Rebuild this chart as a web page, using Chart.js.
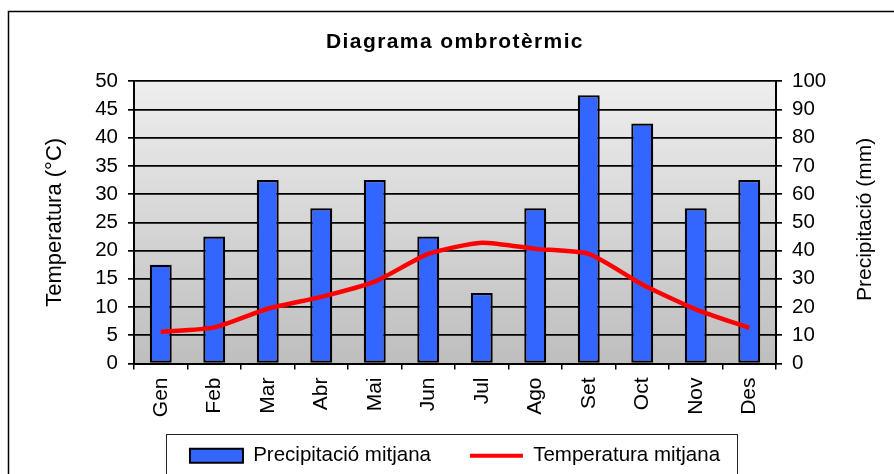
<!DOCTYPE html>
<html>
<head>
<meta charset="utf-8">
<script src="https://cdn.jsdelivr.net/npm/chart.js@4/dist/chart.umd.min.js"></script>
<style>
html,body{margin:0;padding:0;background:#fff;}
#wrap{width:894px;height:474px;position:relative;}
</style>
</head>
<body>
<div id="wrap"><canvas id="c" width="894" height="474"></canvas></div>
<script>
// ---- data ----
const months = ['Gen','Feb','Mar','Abr','Mai','Jun','Jul','Ago','Set','Oct','Nov','Des'];
const precipitation = [35, 45, 65, 55, 65, 45, 25, 55, 95, 85, 55, 65];
const temperature = [5.6, 6.4, 9.7, 11.8, 14.5, 19.4, 21.4, 20.3, 19.4, 14.0, 9.6, 6.3];
const tempTickValues = [0, 5, 10, 15, 20, 25, 30, 35, 40, 45, 50];
const precTickValues = [0, 10, 20, 30, 40, 50, 60, 70, 80, 90, 100];
const chartTitle = 'Diagrama ombrotèrmic';
const precLabel = 'Precipitació mitjana';
const tempLabel = 'Temperatura mitjana';
const tempAxisTitle = 'Temperatura (°C)';
const precAxisTitle = 'Precipitació (mm)';

const FONT = "'Liberation Sans', Arial, sans-serif";
const FS = 20.5;

const decor = {
  id: 'decor',
  afterLayout(chart) {
    const t = chart.titleBlock;
    if (t && !t._spaced) {
      const orig = t.draw.bind(t);
      t.draw = function (area) {
        const ctx = chart.ctx;
        ctx.save();
        if ('letterSpacing' in ctx) ctx.letterSpacing = '1.4px';
        orig(area);
        ctx.restore();
      };
      t._spaced = true;
    }
    const x = chart.scales.x;
    x._computeLabelArea = function () { return undefined; };
  },
  beforeDraw(chart) {
    const {ctx, chartArea: a} = chart;
    ctx.save();
    ctx.fillStyle = '#fff';
    ctx.fillRect(0, 0, chart.width, chart.height);
    const g = ctx.createLinearGradient(0, a.top, 0, a.bottom);
    g.addColorStop(0, '#EEEEEE');
    g.addColorStop(1, '#BEBEBE');
    ctx.fillStyle = g;
    ctx.fillRect(a.left, a.top, a.right - a.left, a.bottom - a.top);
    ctx.restore();
  },
  afterDraw(chart) {
    const {ctx, chartArea: a} = chart;
    ctx.save();
    ctx.strokeStyle = '#000';
    ctx.lineWidth = 1.5;
    ctx.strokeRect(8.5, 11.5, 1000, 1000);
    ctx.lineWidth = 1;
    ctx.strokeStyle = '#222';
    ctx.strokeRect(166.5, 434.5, 571, 100);
    ctx.translate(865, (a.top + a.bottom) / 2 - 3);
    ctx.rotate(-Math.PI / 2);
    ctx.fillStyle = '#000';
    ctx.font = '21px ' + FONT;
    ctx.textAlign = 'center';
    ctx.textBaseline = 'middle';
    ctx.fillText(precAxisTitle, 0, 0);
    ctx.restore();
  }
};

new Chart(document.getElementById('c'), {
  data: {
    labels: months,
    datasets: [
      {
        type: 'bar',
        label: precLabel,
        data: precipitation,
        yAxisID: 'y1',
        backgroundColor: '#3366FF',
        borderColor: '#000',
        borderWidth: 2.2,
        borderSkipped: false,
        barPercentage: 0.41,
        categoryPercentage: 1.0,
        order: 2
      },
      {
        type: 'line',
        label: tempLabel,
        data: temperature,
        yAxisID: 'y',
        borderColor: '#FF0000',
        backgroundColor: '#FF0000',
        borderWidth: 4.5,
        pointRadius: 0,
        tension: 0.2,
        fill: false,
        order: 1
      }
    ]
  },
  options: {
    responsive: false,
    maintainAspectRatio: false,
    animation: false,
    devicePixelRatio: 1,
    layout: { padding: { left: 16, right: 0, top: 0, bottom: -2 } },
    plugins: {
      tooltip: { enabled: false },
      title: {
        display: true,
        text: chartTitle,
        color: '#000',
        font: { family: FONT, size: 21, weight: 'bold', lineHeight: 1.2 },
        padding: { top: 30, bottom: 26 }
      },
      legend: {
        display: true,
        position: 'bottom',
        labels: {
          color: '#000',
          font: { family: FONT, size: FS },
          usePointStyle: true,
          pointStyleWidth: 53,
          boxHeight: 14,
          padding: 39,
          generateLabels(chart) {
            return chart.data.datasets.map((ds, i) => ({
              text: ds.label,
              fillStyle: ds.backgroundColor,
              strokeStyle: ds.type === 'bar' ? '#000' : ds.borderColor,
              lineWidth: ds.type === 'bar' ? 2 : 4,
              pointStyle: ds.type === 'bar' ? 'rect' : 'line',
              hidden: false,
              datasetIndex: i,
              fontColor: '#000'
            }));
          }
        }
      }
    },
    scales: {
      x: {
        type: 'category',
        offset: true,
        grid: { display: true, drawOnChartArea: false, drawTicks: true, tickLength: 6, color: '#000', lineWidth: 1.5, offset: true },
        border: { display: true, color: '#000', width: 2 },
        ticks: { autoSkip: false, minRotation: 90, maxRotation: 90, padding: 8, color: '#000', font: { family: FONT, size: 21 } },
        afterFit(s) { s.height = 43; }
      },
      y: {
        type: 'linear',
        position: 'left',
        min: 0,
        max: 50,
        afterBuildTicks(s) { s.ticks = tempTickValues.map(v => ({ value: v })); },
        grid: { display: true, drawOnChartArea: true, drawTicks: true, tickLength: 6, color: '#000', lineWidth: 1.7 },
        border: { display: true, color: '#000', width: 2 },
        ticks: { padding: 10, color: '#000', font: { family: FONT, size: FS } },
        title: { display: true, text: tempAxisTitle, color: '#000', font: { family: FONT, size: 22, lineHeight: 1.2 }, padding: { top: 26, bottom: 0 } },
        afterFit(s) { s.width = 118; }
      },
      y1: {
        type: 'linear',
        position: 'right',
        min: 0,
        max: 100,
        afterBuildTicks(s) { s.ticks = precTickValues.map(v => ({ value: v })); },
        grid: { display: true, drawOnChartArea: false, drawTicks: true, tickLength: 6, color: '#000', lineWidth: 1.7 },
        border: { display: true, color: '#000', width: 2 },
        ticks: { padding: 10, color: '#000', font: { family: FONT, size: FS } },
        afterFit(s) { s.width = 118; }
      }
    }
  },
  plugins: [decor]
});
</script>
</body>
</html>
